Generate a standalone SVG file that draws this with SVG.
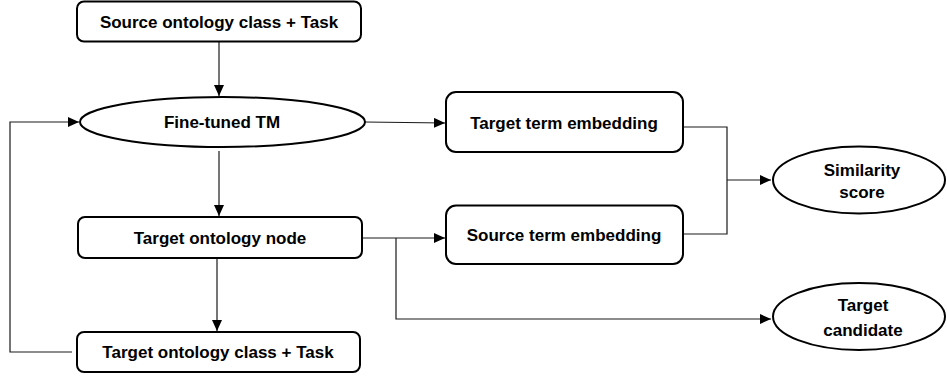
<svg xmlns="http://www.w3.org/2000/svg" width="947" height="378" viewBox="0 0 947 378">
  <style>
    .box { fill: #ffffff; stroke: #000000; stroke-width: 2; }
    .lbl { font-family: "Liberation Sans", Arial, sans-serif; font-weight: bold; font-size: 17px; fill: #000000; text-anchor: middle; }
    .conn { fill: none; stroke: #1a1a1a; stroke-width: 1.2; }
  </style>
  <defs>
    <marker id="arrow" markerUnits="userSpaceOnUse" markerWidth="12" markerHeight="10" refX="11" refY="5" orient="auto">
      <path d="M0,0 L11,5 L0,10 z" fill="#000000"/>
    </marker>
  </defs>
  <rect width="947" height="378" fill="#ffffff"/>

  <g id="connectors">
    <path class="conn" d="M219 42 V96" marker-end="url(#arrow)"/>
    <path class="conn" d="M72 352 H10 V122 H79" marker-end="url(#arrow)"/>
    <path class="conn" d="M219 151 V216" marker-end="url(#arrow)"/>
    <path class="conn" d="M217 258 V331" marker-end="url(#arrow)"/>
    <path class="conn" d="M365 122 L445 123" marker-end="url(#arrow)"/>
    <path class="conn" d="M362 238 H445" marker-end="url(#arrow)"/>
    <path class="conn" d="M396 238 V319 H771" marker-end="url(#arrow)"/>
    <path class="conn" d="M683 127 H727 V234 H683"/>
    <path class="conn" d="M727 180 H771" marker-end="url(#arrow)"/>
  </g>

  <g id="source-class-task">
    <rect class="box" x="77" y="1.5" width="284" height="40" rx="7"/>
    <text class="lbl" x="219" y="27.5">Source ontology class + Task</text>
  </g>

  <g id="fine-tuned-tm">
    <ellipse class="box" cx="222.5" cy="122" rx="142.5" ry="25"/>
    <text class="lbl" x="222" y="128">Fine-tuned TM</text>
  </g>

  <g id="target-ontology-node">
    <rect class="box" x="78" y="217" width="284" height="41" rx="7"/>
    <text class="lbl" x="220" y="243.5">Target ontology node</text>
  </g>

  <g id="target-class-task">
    <rect class="box" x="77" y="332" width="283" height="40" rx="7"/>
    <text class="lbl" x="218" y="358">Target ontology class + Task</text>
  </g>

  <g id="target-term-embedding">
    <rect class="box" x="446" y="92" width="237" height="60" rx="10"/>
    <text class="lbl" x="564" y="128.5">Target term embedding</text>
  </g>

  <g id="source-term-embedding">
    <rect class="box" x="446" y="205.5" width="237" height="58.5" rx="10"/>
    <text class="lbl" x="564" y="241">Source term embedding</text>
  </g>

  <g id="similarity-score">
    <ellipse class="box" cx="859" cy="180" rx="86" ry="33.5"/>
    <text class="lbl" x="862" y="176">Similarity</text>
    <text class="lbl" x="862" y="198">score</text>
  </g>

  <g id="target-candidate">
    <ellipse class="box" cx="859" cy="316.5" rx="86" ry="33.5"/>
    <text class="lbl" x="863" y="311">Target</text>
    <text class="lbl" x="863" y="336">candidate</text>
  </g>
</svg>
